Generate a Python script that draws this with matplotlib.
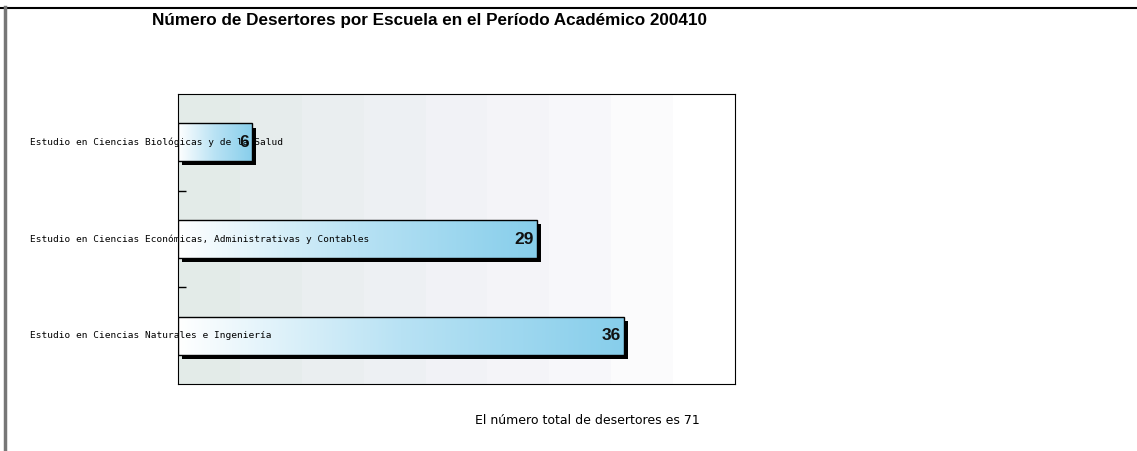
import numpy as np
import matplotlib
matplotlib.use('Agg')
from matplotlib import pyplot as plt
from matplotlib import patheffects as pe
from matplotlib import transforms
from matplotlib.colors import LinearSegmentedColormap
from matplotlib.lines import Line2D

escuelas = ["Estudio en Ciencias Biológicas y de la Salud",
            "Estudio en Ciencias Económicas, Administrativas y Contables",
            "Estudio en Ciencias Naturales e Ingeniería"]
desertores = [6, 29, 36]
titulo = "Número de Desertores por Escuela en el Período Académico 200410"
total = sum(desertores)

fig = plt.figure(figsize=(11.37, 4.51), dpi=100)
ax = fig.add_axes([178/1137, 67/451, 557/1137, 290/451])

# background of the plot area: banded gradient, grey-green to white
bg = LinearSegmentedColormap.from_list("bg", ["#e3ebe8", "#eaeef0", "#f1f2f6", "#f7f7fa", "#ffffff"])
steps = np.linspace(0, 1, 9).reshape(1, -1)
ax.imshow(steps, cmap=bg, aspect="auto", extent=(0, 1, 0, 1),
          transform=ax.transAxes, zorder=0, interpolation="nearest")

y = np.arange(len(escuelas))
shadow = [pe.SimplePatchShadow(offset=(3, -3), shadow_rgbFace="black", alpha=1.0), pe.Normal()]
bars = ax.barh(y, desertores, height=0.39, color="white", edgecolor="none",
               zorder=2, path_effects=shadow)

barcm = LinearSegmentedColormap.from_list("bar", ["#ffffff", "#b8e2f4", "#87ceeb"])
grad = np.linspace(0, 1, 256).reshape(1, -1)
for b in bars:
    x0, y0, w, h = b.get_x(), b.get_y(), b.get_width(), b.get_height()
    im = ax.imshow(grad, cmap=barcm, aspect="auto", extent=(x0, x0 + w, y0 + h, y0),
                   zorder=3, interpolation="bilinear")
    im.set_clip_path(b)
ax.barh(y, desertores, height=0.39, fill=False, edgecolor="black", linewidth=1.0, zorder=4)

for yi, v in zip(y, desertores):
    ax.annotate(str(v), (v, yi), xytext=(-3, 0), textcoords="offset pixels",
                ha="right", va="center", fontsize=12.5, fontweight="bold",
                family="Liberation Sans", color="#111111", zorder=6)

ax.set_xlim(0, 45)
ax.set_ylim(len(escuelas) - 0.5, -0.5)
ax.set_xticks([])
ax.set_yticks(y[:-1] + 0.5)
ax.set_yticklabels([])
ax.tick_params(axis="y", direction="in", length=6, width=1)
for s in ax.spines.values():
    s.set_linewidth(0.8)

# category labels, drawn over the bars
lab_tr = transforms.blended_transform_factory(fig.transFigure, ax.transData)
for yi, name in zip(y, escuelas):
    ax.text(30/1137, yi, name, transform=lab_tr, ha="left", va="center",
            fontsize=6.8, family="DejaVu Sans Mono", zorder=7, clip_on=False)

fig.text(430/1137, 1 - 20/451, titulo, ha="center", va="center",
         fontsize=12.3, fontweight="bold", family="Liberation Sans")
fig.text(587/1137, 1 - 420/451, f"El número total de desertores es {total}",
         ha="center", va="center", fontsize=9, family="DejaVu Sans")

# page frame: top rule and left grey rule
fig.add_artist(Line2D([0, 1], [1 - 7.5/451] * 2, transform=fig.transFigure, color="black", lw=1.5))
fig.add_artist(Line2D([4.5/1137] * 2, [0, 1 - 7/451], transform=fig.transFigure, color="#777777", lw=2.5))

fig.savefig("out.png", dpi=100)
